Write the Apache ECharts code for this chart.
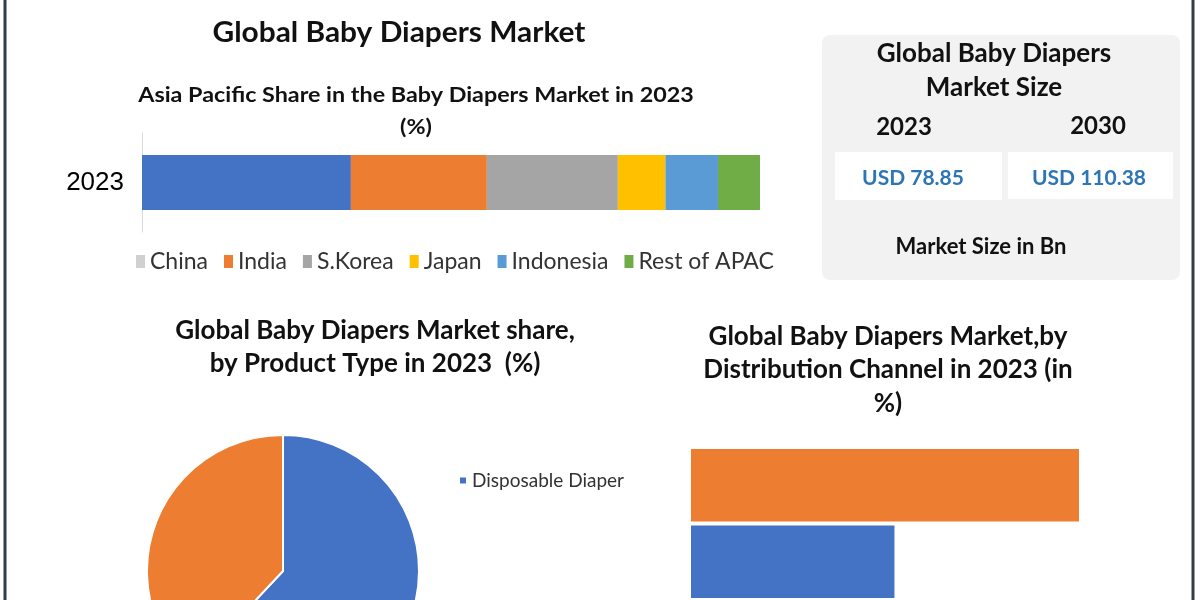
<!DOCTYPE html>
<html>
<head>
<meta charset="utf-8">
<script src="https://cdn.jsdelivr.net/npm/echarts@6/dist/echarts.min.js"></script>
<style>html,body{margin:0;padding:0;background:#fff}#c{width:1200px;height:600px}</style>
</head>
<body>
<div id="c"></div>
<script>
// ---- data ----
const apacYears = ['2023'];
const apacNames = ['China', 'India', 'S.Korea', 'Japan', 'Indonesia', 'Rest of APAC'];
const apacValues = [33.8, 22.0, 21.2, 7.7, 8.5, 6.8];
const productNames = ['Disposable Diaper', 'Cloth Diaper'];
const productValues = [62, 38];
const channelNames = ['Offline', 'Online'];
const channelValues = [65.6, 34.4];
const sizeYears = ['2023', '2030'];
const sizeValues = ['USD 78.85', 'USD 110.38'];

const apacColors = ['#4472c4', '#ed7d31', '#a5a5a5', '#ffc000', '#5b9bd5', '#70ad47'];
const CAL = 'Lato, "Open Sans", sans-serif';

const chart = echarts.init(document.getElementById('c'), null, {renderer: 'canvas'});

function txt(x, y, s, font, color, sx) {
  return {type: 'text', x: x, y: y, z: 10, scaleX: sx || 1,
    style: {text: s, font: font, fill: color || '#111', align: 'center', verticalAlign: 'middle'}};
}

const graphics = [
  {type: 'line', shape: {x1: 5, y1: 0, x2: 5, y2: 600}, style: {stroke: '#333d47', lineWidth: 3}},
  {type: 'line', shape: {x1: 1193, y1: 0, x2: 1193, y2: 600}, style: {stroke: '#333d47', lineWidth: 3}},
  txt(399, 33, 'Global Baby Diapers Market', 'bold 29px ' + CAL, '#111', 1.03),
  txt(416, 95, 'Asia Pacific Share in the Baby Diapers Market in 2023', 'bold 21px ' + CAL, '#111', 1.11),
  txt(416, 127, '(%)', 'bold 21px ' + CAL, '#111', 1.11),
  {type: 'rect', shape: {x: 822, y: 35, width: 358, height: 245, r: 8}, style: {fill: '#f2f2f2'}},
  {type: 'rect', shape: {x: 835, y: 152, width: 167, height: 48}, style: {fill: '#ffffff'}, z: 5},
  {type: 'rect', shape: {x: 1008, y: 152, width: 165, height: 47}, style: {fill: '#ffffff'}, z: 5},
  txt(994, 54, 'Global Baby Diapers', 'bold 26px ' + CAL),
  txt(994, 88, 'Market Size', 'bold 26px ' + CAL),
  txt(904, 127, sizeYears[0], 'bold 24px ' + CAL),
  txt(1098, 126, sizeYears[1], 'bold 24px ' + CAL),
  txt(913, 178, sizeValues[0], 'bold 21px ' + CAL, '#2e75b6'),
  txt(1089, 178, sizeValues[1], 'bold 21px ' + CAL, '#2e75b6'),
  txt(981, 247, 'Market Size in Bn', 'bold 22px ' + CAL),
  txt(375, 331, 'Global Baby Diapers Market share,', 'bold 26px ' + CAL),
  txt(375, 364, 'by Product Type in 2023  (%)', 'bold 26px ' + CAL),
  txt(888, 337, 'Global Baby Diapers Market,by', 'bold 26px ' + CAL),
  txt(888, 370, 'Distribution Channel in 2023 (in', 'bold 26px ' + CAL),
  txt(888, 404, '%)', 'bold 26px ' + CAL)
];

const apacSeries = apacNames.map((n, i) => ({
  name: n, type: 'bar', stack: 'apac', xAxisIndex: 0, yAxisIndex: 0,
  barWidth: 55, itemStyle: {color: apacColors[i]},
  data: [apacValues[i]], silent: true
}));

const option = {
  animation: false,
  backgroundColor: '#ffffff',
  graphic: graphics,
  legend: [
    {
      data: apacNames.map((n, i) => i === 0 ? {name: n, itemStyle: {color: '#d0d0d0'}} : n),
      left: 131, top: 245, icon: 'rect', itemWidth: 9, itemHeight: 13, itemGap: 16,
      textStyle: {fontFamily: CAL, fontSize: 23, color: '#333'}
    },
    {
      data: [productNames[0]], left: 453, top: 466, icon: 'rect', itemWidth: 8, itemHeight: 8, itemGap: 6,
      textStyle: {fontFamily: CAL, fontSize: 19, color: '#333'}
    }
  ],
  grid: [
    {left: 142, top: 133, width: 618, height: 99, containLabel: false},
    {left: 691, top: 447, width: 414, height: 154, containLabel: false}
  ],
  xAxis: [
    {gridIndex: 0, type: 'value', min: 0, max: 100, show: false},
    {gridIndex: 1, type: 'value', min: 0, max: 70, show: false}
  ],
  yAxis: [
    {gridIndex: 0, type: 'category', data: apacYears,
     axisLine: {show: true, lineStyle: {color: '#d9d9d9', width: 1}},
     axisTick: {show: false},
     axisLabel: {fontFamily: 'Liberation Sans, Arial, sans-serif', fontSize: 26, color: '#000', margin: 18}},
    {gridIndex: 1, type: 'category', data: channelNames, inverse: true, show: false}
  ],
  series: apacSeries.concat([
    {
      type: 'pie', center: [283, 571], radius: 136, startAngle: 90, clockwise: true,
      label: {show: false}, labelLine: {show: false},
      itemStyle: {borderColor: '#fff', borderWidth: 2},
      data: productNames.map((n, i) => ({name: n, value: productValues[i], itemStyle: {color: ['#4472c4', '#ed7d31'][i]}})),
      silent: true
    },
    {
      type: 'bar', xAxisIndex: 1, yAxisIndex: 1, barCategoryGap: '5%',
      data: channelValues.map((v, i) => ({value: v, itemStyle: {color: ['#ed7d31', '#4472c4'][i]}})),
      silent: true
    }
  ])
};
chart.setOption(option);
</script>
</body>
</html>
